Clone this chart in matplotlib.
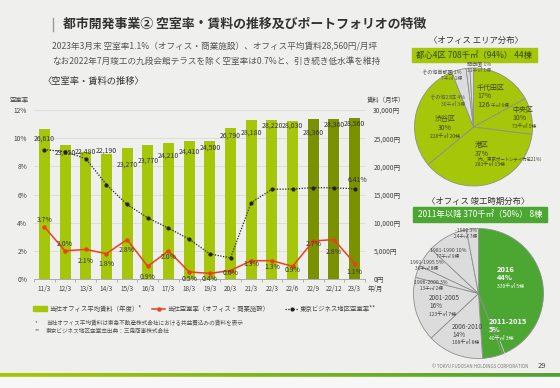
import numpy as np
import matplotlib
matplotlib.use('Agg')
import matplotlib.pyplot as plt
from matplotlib.patches import Rectangle
from matplotlib.lines import Line2D
from matplotlib.colors import LinearSegmentedColormap

plt.rcParams['font.family'] = ['Noto Sans CJK JP', 'DejaVu Sans']

# ---- データ ----
periods = ['11/3', '12/3', '13/3', '14/3', '15/3', '16/3', '17/3', '18/3', '19/3',
           '20/3', '21/3', '22/3', '22/6', '22/9', '22/12', '23/3']
rent = [26610, 23850, 22480, 22190, 23270, 23770, 24210, 24410, 24500,
        26790, 28180, 28220, 28030, 28360, 28360, 28560]
own_vacancy = [3.7, 2.0, 2.1, 1.8, 2.8, 0.9, 2.0, 0.5, 0.4,
               0.6, 1.3, 1.3, 0.9, 2.7, 2.8, 1.1]
tokyo_vacancy = [9.19, 9.04, 8.55, 6.70, 5.29, 4.34, 3.61, 2.83, 1.78,
                 1.50, 5.42, 6.37, 6.39, 6.49, 6.47, 6.41]
quarterly = ['22/9', '22/12', '23/3']

area_names = ['千代田区', '中央区', '港区', '渋谷区', 'その他23区', 'その他首都圏', '関西圏']
area_share = [17, 10, 37, 30, 4, 1, 1]
area_size = [126, 73, 281, 228, 30, 7, 11]
area_bldg = [6, 5, 13, 20, 3, 1, 1]
area_core = ['千代田区', '中央区', '港区', '渋谷区']

era_names = ['2016', '2011-2015', '2006-2010', '2001-2005', '1996-2000',
             '1991-1995', '1981-1990', '-1980']
era_share = [44, 5, 14, 16, 3, 5, 10, 3]
era_size = [330, 40, 108, 123, 13, 38, 77, 24]
era_bldg = [5, 3, 8, 7, 2, 8, 9, 7]
era_new = ['2016', '2011-2015']

# ---- 色 ----
BG = '#efefee'
LIGHT = '#a6c60a'
DARK = '#7a9100'
GREEN = '#4ca732'
GRAY_W = '#dcdcdc'
TXT = '#333333'

W, H = 560, 388
fig = plt.figure(figsize=(W / 100, H / 100), dpi=100, facecolor=BG)

# 全体に重ねるピクセル座標の軸
ov = fig.add_axes([0, 0, 1, 1], zorder=10)
ov.set_xlim(0, W)
ov.set_ylim(H, 0)
ov.axis('off')
ov.patch.set_alpha(0)


def T(x, y, s, size=5, color=TXT, ha='left', va='center', **kw):
    ov.text(x, y, s, fontsize=size, color=color, ha=ha, va=va, **kw)


# ---- メインチャート ----
ax = fig.add_axes([34 / W, 1 - 279 / H, 331 / W, 169 / H])
ax.set_facecolor('none')
x = np.arange(len(periods))
bar_colors = [DARK if p in quarterly else LIGHT for p in periods]
ax.bar(x, rent, width=0.53, color=bar_colors, zorder=2)
ax.set_ylim(0, 30000)
ax.set_xlim(-0.45, 15.5)
ax.set_xticks(x)
ax.set_xticklabels(periods, fontsize=4.6, color='#444')
ax.set_xticks(np.arange(-0.5, 16, 1), minor=True)
ax.tick_params(axis='x', which='major', length=0, pad=4)
ax.tick_params(axis='x', which='minor', length=2, color='#999', width=0.5)
ax.grid(axis='y', color='#dadada', lw=0.6, zorder=0)
for s in ['top', 'left', 'right']:
    ax.spines[s].set_visible(False)
ax.spines['bottom'].set_color('#aaaaaa')
ax.spines['bottom'].set_linewidth(0.7)

rent_dy = [-10, -8, 1, 3, -17, -16, -13, -10, -7, -8, -12, -6, -5, -13, -5, -6]
for xi, v, dy in zip(x, rent, rent_dy):
    ax.annotate(f'{v:,}', (xi, v), xytext=(0, dy * 0.72), textcoords='offset points',
                ha='center', va='center', fontsize=5, color=TXT, zorder=5)

ax2 = ax.twinx()
# 賃料は右、空室率は左
ax.yaxis.tick_right()
ax.set_yticks(np.arange(0, 30001, 5000))
ax.set_yticklabels([f'{v:,}円' for v in range(0, 30001, 5000)], fontsize=4.8, color='#444')
ax.tick_params(axis='y', length=0, pad=6)

ax2.set_ylim(0, 12)
ax2.yaxis.tick_left()
ax2.set_yticks(np.arange(0, 13, 2))
ax2.set_yticklabels([f'{v}%' for v in range(0, 13, 2)], fontsize=4.8, color='#444')
ax2.tick_params(axis='y', length=0, pad=5)
for s in ax2.spines.values():
    s.set_visible(False)
ax2.plot(x, tokyo_vacancy, color='#222222', ls=(0, (1, 1.2)), lw=0.9,
         marker='o', ms=2.0, zorder=3)
ax2.plot(x, own_vacancy, color='#e8421a', lw=1.1, marker='o', ms=2.2, zorder=4)

own_dy = [7, 7, -12, -10, -10, -11, -6, -7, -6, -2, -3, -6, -4, -3, -12, -8]
for xi, v, dy in zip(x, own_vacancy, own_dy):
    ax2.annotate(f'{v}%', (xi, v), xytext=(0, dy * 0.72), textcoords='offset points',
                 ha='center', va='center', fontsize=5, color=TXT, zorder=6)
ax2.annotate(f'{tokyo_vacancy[-1]:.2f}%', (x[-1], tokyo_vacancy[-1]),
             xytext=(3 * 0.72, 9 * 0.72), textcoords='offset points',
             ha='center', va='center', fontsize=5, color=TXT)

# 軸ラベル
T(10, 100, '空室率', 4.6, '#444')
T(367, 100, '賃料（月坪）', 4.6, '#444')
T(368, 289, '年/月', 4.6, '#444')

# ---- タイトル ----
ov.add_line(Line2D([53, 53], [18, 31], color='#999999', lw=1))
T(63, 24, '都市開発事業② 空室率・賃料の推移及びポートフォリオの特徴', 9.3, '#333333',
  weight='bold')
T(52, 47, '2023年3月末 空室率1.1%（オフィス・商業施設）、オフィス平均賃料28,560円/月坪',
  6.2, '#555555')
T(52, 61, 'なお2022年7月竣工の九段会館テラスを除く空室率は0.7%と、引き続き低水準を維持',
  6.2, '#555555')
T(43, 81, '〈空室率・賃料の推移〉', 6.7, '#333333')

# ---- 凡例 ----
ov.add_patch(Rectangle((33, 306), 14, 5, color=LIGHT))
T(49, 308.5, '当社オフィス平均賃料（年度）*', 4.6, '#444')
ov.add_line(Line2D([152, 165], [308.5, 308.5], color='#e8421a', lw=1.1))
ov.add_line(Line2D([158.5], [308.5], color='#e8421a', marker='o', ms=2.2))
T(167, 308.5, '当社空室率（オフィス・商業施設）', 4.6, '#444')
ov.add_line(Line2D([285, 298], [308.5, 308.5], color='#222', ls=(0, (1, 1.2)), lw=0.9))
ov.add_line(Line2D([291.5], [308.5], color='#222', marker='o', ms=2.0))
T(300, 308.5, '東京ビジネス地区空室率**', 4.6, '#444')

T(35, 323, '*', 4.1, '#555')
T(46, 323, '当社オフィス平均賃料は東急不動産株式会社における共益費込みの賃料を表示', 4.1, '#555')
T(35, 331, '**', 4.1, '#555')
T(46, 331, '東京ビジネス地区空室率出典：三鬼商事株式会社', 4.1, '#555')

# ---- エリア分布 ----
T(476, 40, '〈オフィス エリア分布〉', 6, '#333333', ha='center')
ov.add_patch(Rectangle((412, 48), 125, 14, color=LIGHT))
T(474.5, 55, '都心4区 708千㎡（94%） 44棟', 6, '#2f4a10', ha='center')

cx, cy, r = 473.5, 127, 59
pad = 1.03
p1 = fig.add_axes([(cx - r * pad) / W, 1 - (cy + r * pad) / H, 2 * r * pad / W, 2 * r * pad / H])
p1.pie(area_share, colors=[LIGHT if n in area_core else GRAY_W for n in area_names],
       startangle=90, counterclock=False,
       wedgeprops=dict(edgecolor='#8f8f8f', linewidth=0.6))
p1.set_xlim(-pad, pad)
p1.set_ylim(-pad, pad)
p1.axis('off')

core_pos = {'千代田区': (477, 88), '中央区': (512, 110), '港区': (475, 145), '渋谷区': (445, 119)}
core_ha = {'千代田区': 'left', '中央区': 'left', '港区': 'left', '渋谷区': 'center'}
for n, sh, sz, b in zip(area_names, area_share, area_size, area_bldg):
    if n in core_pos:
        px, py = core_pos[n]
        ha = core_ha[n]
        T(px, py, n, 5, '#3a4a12', ha=ha)
        T(px, py + 8.5, f'{sh}%', 5, '#3a4a12', ha=ha)
        yy = py + 17
        if n == '港区':
            T(px, py + 13.5, '（内、東京ポートシティ竹芝21%）', 3.2, '#3a4a12', ha=ha)
            yy = py + 20
        if n == '千代田区':
            T(px, yy, f'{sz}', 5.5, '#3a4a12', ha=ha)
            T(px + 14, yy + 0.5, f'千㎡ {b}棟', 3.4, '#3a4a12', ha='left')
        else:
            T(px, yy, f'{sz}千㎡ {b}棟', 3.6, '#3a4a12', ha=ha)

small_pos = {'その他23区': (465, 98, 'right'), 'その他首都圏': (462, 73, 'right'),
             '関西圏': (467, 64, 'left')}
for n, sh, sz, b in zip(area_names, area_share, area_size, area_bldg):
    if n in small_pos:
        px, py, ha = small_pos[n]
        T(px, py, f'{n} {sh}%', 3.7, '#555', ha=ha)
        T(px, py + 6, f'{sz}千㎡ {b}棟', 3.5, '#555', ha=ha)

# ---- 竣工時期分布 ----
T(478, 201, '〈オフィス 竣工時期分布〉', 6, '#333333', ha='center')
ov.add_patch(Rectangle((413, 207), 134, 15, color=GREEN))
T(480, 214.5, '2011年以降 370千㎡（50%） 8棟', 6, 'white', ha='center')

cx, cy, r = 478.5, 293.5, 65
p2 = fig.add_axes([(cx - r * pad) / W, 1 - (cy + r * pad) / H, 2 * r * pad / W, 2 * r * pad / H])
p2.pie(era_share, colors=[GREEN if n in era_new else GRAY_W for n in era_names],
       startangle=90, counterclock=False,
       wedgeprops=dict(edgecolor='#8f8f8f', linewidth=0.6))
p2.set_xlim(-pad, pad)
p2.set_ylim(-pad, pad)
p2.axis('off')

big_pos = {'2016': (497, 270, 'white'), '2011-2015': (489, 322, 'white'),
           '2006-2010': (452, 327, '#444'), '2001-2005': (429, 298, '#444')}
for n, sh, sz, b in zip(era_names, era_share, era_size, era_bldg):
    if n in big_pos:
        px, py, c = big_pos[n]
        wt = 'bold' if c == 'white' else 'normal'
        fs = 5.4 if c == 'white' else 4.6
        T(px, py, n, fs, c, weight=wt)
        T(px, py + 8, f'{sh}%', fs, c, weight=wt)
        T(px, py + 16, f'{sz}千㎡ {b}棟', 3.6, c)
ov.add_line(Line2D([500, 506], [341, 357], color='#cfe8c4', lw=0.5))

thin_pos = {'1996-2000': (431, 282), '1991-1995': (427, 263),
            '1981-1990': (448, 251), '-1980': (466, 231)}
for n, sh, sz, b in zip(era_names, era_share, era_size, era_bldg):
    if n in thin_pos:
        px, py = thin_pos[n]
        T(px, py, f'{n} {sh}%', 3.7, '#444', ha='center')
        T(px, py + 6, f'{sz}千㎡ {b}棟', 3.4, '#444', ha='center')

# ---- フッター ----
T(432, 367, '© TOKYU FUDOSAN HOLDINGS CORPORATION', 3.2, '#777')
T(538, 366.5, '29', 5.5, '#444')
ov.add_patch(Rectangle((0, 377), W, 11, color='#f7f7f7'))
grad = LinearSegmentedColormap.from_list('g', ['#a9c700', '#4ea332'])
ov.imshow(np.linspace(0, 1, 256)[None, :], extent=[0, W, 377, 373], cmap=grad, aspect='auto')
ov.set_xlim(0, W)
ov.set_ylim(H, 0)

fig.savefig('out.png', dpi=100, facecolor=fig.get_facecolor())
